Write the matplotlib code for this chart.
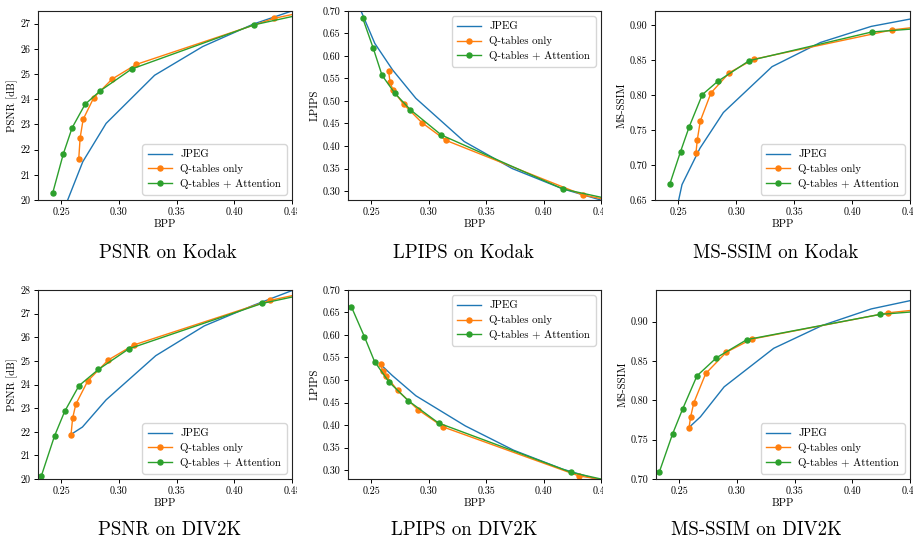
import matplotlib
matplotlib.use("Agg")
import matplotlib.pyplot as plt
from matplotlib.transforms import Bbox, TransformedBbox

plt.rcParams["font.family"] = "cmr10"
plt.rcParams["mathtext.fontset"] = "cm"
plt.rcParams["axes.formatter.use_mathtext"] = True

# ---------------- Kodak ----------------
kodak_jpeg_bpp = [0.2405, 0.2533, 0.2688, 0.2890, 0.3310, 0.3727, 0.4165, 0.4550]
kodak_jpeg_psnr = [18.4, 19.72, 21.52, 23.04, 24.95, 26.09, 26.98, 27.58]
kodak_jpeg_lpips = [0.705, 0.628, 0.569, 0.506, 0.410, 0.350, 0.305, 0.276]
kodak_jpeg_msssim = [0.574, 0.672, 0.724, 0.775, 0.8405, 0.875, 0.898, 0.910]

kodak_q_bpp = [0.2653, 0.2665, 0.2691, 0.2783, 0.2942, 0.3151, 0.4345, 0.4700]
kodak_q_psnr = [21.64, 22.47, 23.20, 24.06, 24.80, 25.38, 27.21, 27.55]
kodak_q_lpips = [0.567, 0.543, 0.524, 0.493, 0.452, 0.4126, 0.291, 0.273]
kodak_q_msssim = [0.7167, 0.736, 0.763, 0.803, 0.832, 0.851, 0.893, 0.8997]

kodak_att_bpp = [0.2428, 0.2520, 0.2596, 0.2708, 0.2841, 0.3112, 0.4170, 0.4700]
kodak_att_psnr = [20.29, 21.84, 22.87, 23.80, 24.34, 25.20, 26.95, 27.48]
kodak_att_lpips = [0.684, 0.617, 0.557, 0.517, 0.481, 0.4244, 0.3044, 0.275]
kodak_att_msssim = [0.6729, 0.719, 0.755, 0.8005, 0.8195, 0.849, 0.890, 0.8965]

# ---------------- DIV2K ----------------
div2k_jpeg_bpp = [0.2590, 0.2685, 0.2890, 0.3320, 0.3740, 0.4165, 0.4550]
div2k_jpeg_psnr = [21.90, 22.20, 23.35, 25.22, 26.48, 27.35, 28.07]
div2k_jpeg_lpips = [0.533, 0.510, 0.465, 0.398, 0.344, 0.302, 0.273]
div2k_jpeg_msssim = [0.766, 0.779, 0.817, 0.866, 0.895, 0.916, 0.928]

div2k_q_bpp = [0.2586, 0.2600, 0.2628, 0.2731, 0.2909, 0.3128, 0.4310, 0.4700]
div2k_q_psnr = [21.88, 22.58, 23.17, 24.15, 25.04, 25.67, 27.56, 27.97]
div2k_q_lpips = [0.535, 0.520, 0.510, 0.477, 0.434, 0.3956, 0.2867, 0.271]
div2k_q_msssim = [0.765, 0.779, 0.797, 0.834, 0.861, 0.8776, 0.911, 0.917]

div2k_att_bpp = [0.2329, 0.2443, 0.2531, 0.2655, 0.2824, 0.3087, 0.4240, 0.4700]
div2k_att_psnr = [20.13, 21.82, 22.86, 23.95, 24.64, 25.51, 27.43, 27.91]
div2k_att_lpips = [0.663, 0.596, 0.541, 0.496, 0.454, 0.4044, 0.2948, 0.2686]
div2k_att_msssim = [0.709, 0.757, 0.789, 0.831, 0.854, 0.877, 0.909, 0.9143]

series_names = ["JPEG", "Q-tables only", "Q-tables + Attention"]
captions = ["PSNR on Kodak", "LPIPS on Kodak", "MS-SSIM on Kodak",
            "PSNR on DIV2K", "LPIPS on DIV2K", "MS-SSIM on DIV2K"]
ylabels = ["PSNR [dB]", "LPIPS", "MS-SSIM"]
xticks = [0.25, 0.30, 0.35, 0.40, 0.45]

W, H = 913, 546
fig = plt.figure(figsize=(W / 100, H / 100), dpi=100)


def px_axes(left, top, right, bottom):
    return fig.add_axes([left / W, 1 - bottom / H, (right - left) / W, (bottom - top) / H])


panels = [
    # (axes box px), (clip x-range px), data, ylim, yticks, yfmt, legend loc, caption pos
    ((38, 11, 292, 200), (0, 297),
     (kodak_jpeg_bpp, kodak_jpeg_psnr, kodak_q_bpp, kodak_q_psnr, kodak_att_bpp, kodak_att_psnr),
     (20, 27.5), list(range(20, 28)), "{:d}", "lower right", (168, 253), 0),
    ((348, 11, 601, 200), (300, 603),
     (kodak_jpeg_bpp, kodak_jpeg_lpips, kodak_q_bpp, kodak_q_lpips, kodak_att_bpp, kodak_att_lpips),
     (0.28, 0.70), [0.30, 0.35, 0.40, 0.45, 0.50, 0.55, 0.60, 0.65, 0.70], "{:.2f}",
     "upper right", (463, 253), 1),
    ((655, 11, 910, 200), (605, 913),
     (kodak_jpeg_bpp, kodak_jpeg_msssim, kodak_q_bpp, kodak_q_msssim, kodak_att_bpp, kodak_att_msssim),
     (0.65, 0.92), [0.65, 0.70, 0.75, 0.80, 0.85, 0.90], "{:.2f}", "lower right", (776, 253), 2),
    ((38, 290, 292, 479), (0, 297),
     (div2k_jpeg_bpp, div2k_jpeg_psnr, div2k_q_bpp, div2k_q_psnr, div2k_att_bpp, div2k_att_psnr),
     (20, 28), list(range(20, 29)), "{:d}", "lower right", (170, 530), 0),
    ((348, 290, 601, 479), (300, 603),
     (div2k_jpeg_bpp, div2k_jpeg_lpips, div2k_q_bpp, div2k_q_lpips, div2k_att_bpp, div2k_att_lpips),
     (0.28, 0.70), [0.30, 0.35, 0.40, 0.45, 0.50, 0.55, 0.60, 0.65, 0.70], "{:.2f}",
     "upper right", (464, 530), 1),
    ((656, 290, 910, 479), (605, 913),
     (div2k_jpeg_bpp, div2k_jpeg_msssim, div2k_q_bpp, div2k_q_msssim, div2k_att_bpp, div2k_att_msssim),
     (0.70, 0.94), [0.70, 0.75, 0.80, 0.85, 0.90], "{:.2f}", "lower right", (756, 530), 2),
]

for i, (box, clip, data, ylim, yticks, yfmt, loc, cap, metric) in enumerate(panels):
    ax = px_axes(*box)
    jx, jy, qx, qy, ax_, ay = data
    ax.plot(jx, jy, color="#1f77b4", lw=1.0, label=series_names[0])
    ax.plot(qx, qy, color="#ff7f0e", lw=1.0, marker="o", ms=3.6, label=series_names[1])
    ax.plot(ax_, ay, color="#2ca02c", lw=1.0, marker="o", ms=3.6, label=series_names[2])
    ax.set_xlim(0.23, 0.45)
    ax.set_ylim(*ylim)
    ax.set_xticks(xticks)
    ax.set_xticklabels(["{:.2f}".format(v) for v in xticks])
    ax.set_yticks(yticks)
    ax.set_yticklabels([yfmt.format(v) for v in yticks])
    ax.tick_params(labelsize=7.2, length=3, width=0.7, pad=2.5)
    ax.set_xlabel("BPP", fontsize=7.8, labelpad=1.5)
    ax.set_ylabel(ylabels[metric], fontsize=7.8, labelpad=2)
    for sp in ax.spines.values():
        sp.set_linewidth(0.8)
        sp.set_color("#222222")
    ax.legend(loc=loc, fontsize=7.8, handlelength=2.2, borderpad=0.5,
              labelspacing=0.45, handletextpad=0.8)
    # each panel is cut at its own right edge
    cbox = TransformedBbox(Bbox([[clip[0] / W, 0], [clip[1] / W, 1]]), fig.transFigure)
    for lab in ax.get_xticklabels():
        lab.set_clip_box(cbox)
        lab.set_clip_on(True)
    fig.text(cap[0] / W, 1 - cap[1] / H, captions[i], ha="center", va="center", fontsize=13.6)

fig.savefig("out.png", dpi=100)
